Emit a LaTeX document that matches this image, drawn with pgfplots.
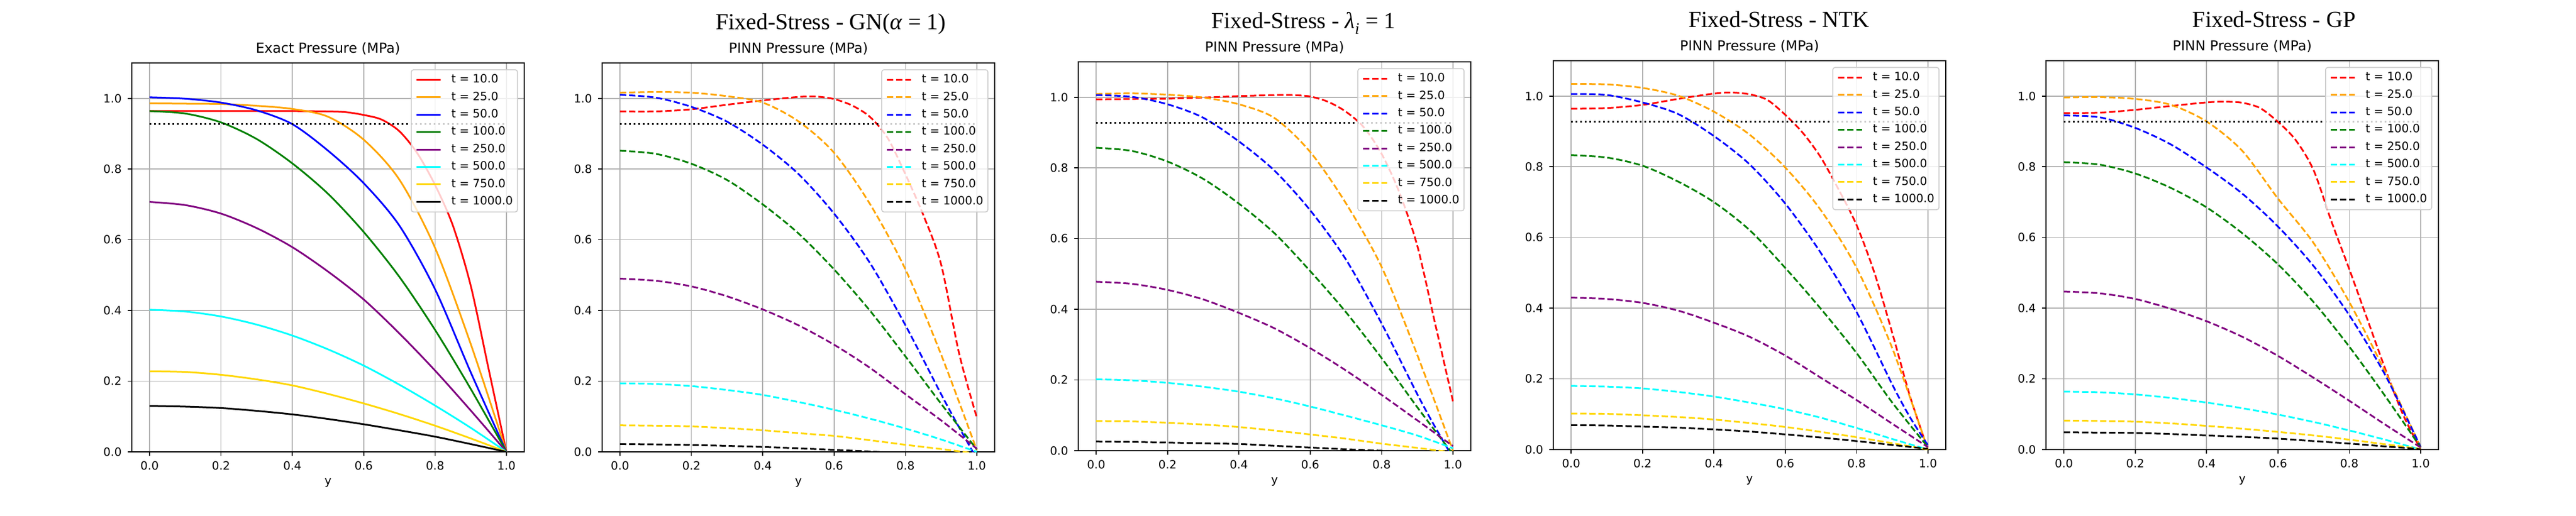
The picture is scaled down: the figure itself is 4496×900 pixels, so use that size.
\documentclass[border=0pt]{standalone}
\usepackage{fontspec}
\setmainfont{DejaVu Sans}
\newfontfamily\supfont{Liberation Serif}
\usepackage{pgfplots}
\pgfplotsset{compat=1.18}

\definecolor{mplorange}{HTML}{FFA500}
\definecolor{mplgreen}{HTML}{008000}
\definecolor{mplpurple}{HTML}{800080}
\definecolor{mplcyan}{HTML}{00FFFF}
\definecolor{mplgold}{HTML}{FFD700}
\definecolor{mplgrid}{HTML}{B0B0B0}
\definecolor{legedge}{HTML}{CCCCCC}

\newcommand{\tf}{\fontsize{20}{24}\selectfont}
\newcommand{\ttf}{\fontsize{24}{29}\selectfont}
\newcommand{\stf}{\supfont\fontsize{40}{48}\selectfont}

\pgfplotsset{
  panel/.style={
    scale only axis, width=685pt, height=679pt,
    anchor=south west,
    xmin=-0.05, xmax=1.05, ymin=0, ymax=1.1,
    xtick={0,0.2,0.4,0.6,0.8,1}, xticklabels={0.0,0.2,0.4,0.6,0.8,1.0},
    ytick={0,0.2,0.4,0.6,0.8,1}, yticklabels={0.0,0.2,0.4,0.6,0.8,1.0},
    tick align=outside, xtick pos=left, ytick pos=left,
    major tick length=7pt,
    tick style={black, line width=1.6pt},
    axis line style={line width=1.6pt},
    grid=major, major grid style={mplgrid, line width=1.6pt},
    xticklabel style={font=\tf, inner sep=0pt, anchor=north, yshift=-9pt},
    yticklabel style={font=\tf, inner sep=0pt, anchor=east, xshift=-10.5pt},
    xlabel={y},
    xlabel style={font=\tf, at={(axis description cs:0.5,0)}, anchor=base, yshift=-57pt, inner sep=0pt},
    title style={font=\ttf, at={(axis description cs:0.5,1)}, anchor=base, yshift=11pt, inner sep=0pt},
    legend cell align=left,
    legend image code/.code={\draw[##1] (0pt,0pt) -- (42pt,0pt);},
    legend style={at={(1,1)}, anchor=north east, xshift=-11pt, yshift=-11pt,
      font=\tf, draw=legedge, line width=1.6pt, rounded corners=4pt,
      fill=white, fill opacity=0.8, draw opacity=1, text opacity=1,
      inner xsep=8pt, inner ysep=8.5pt, row sep=11.9pt,
      nodes={inner sep=0pt, text height=14.5pt, text depth=4pt},
      /tikz/every odd column/.append style={column sep=17pt}},
  },
  ex/.style={line width=3pt, smooth},
  pd/.style={line width=3pt, smooth, dash pattern=on 11pt off 4.8pt},
  ref/.style={black, line width=3pt, dash pattern=on 3pt off 5pt, forget plot},
}

\begin{document}
\begin{tikzpicture}
\fill[white] (0pt,0pt) rectangle (4496pt,900pt);

% exact solution
\begin{axis}[panel, at={(230pt,111pt)}, title={Exact Pressure (MPa)}]
\addplot[ex, red] coordinates {(0,0.964)(0.1,0.964)(0.2,0.964)(0.3,0.964)(0.4,0.964)(0.5,0.963)(0.55,0.961)(0.6,0.953)(0.65,0.94)(0.7,0.907)(0.75,0.845)(0.8,0.755)(0.85,0.64)(0.9,0.47)(0.95,0.235)(1,0)};
\addplot[ex, mplorange] coordinates {(0,0.986)(0.1,0.985)(0.2,0.984)(0.3,0.979)(0.4,0.970)(0.5,0.948)(0.6,0.883)(0.7,0.77)(0.8,0.577)(0.9,0.305)(1,0)};
\addplot[ex, blue] coordinates {(0,1.003)(0.1,0.999)(0.2,0.988)(0.3,0.966)(0.4,0.927)(0.5,0.852)(0.6,0.76)(0.7,0.64)(0.8,0.46)(0.9,0.225)(1,0)};
\addplot[ex, mplgreen] coordinates {(0,0.964)(0.1,0.957)(0.2,0.932)(0.3,0.885)(0.4,0.816)(0.5,0.730)(0.6,0.622)(0.7,0.495)(0.8,0.345)(0.9,0.178)(1,0)};
\addplot[ex, mplpurple] coordinates {(0,0.707)(0.1,0.698)(0.2,0.674)(0.3,0.633)(0.4,0.579)(0.5,0.510)(0.6,0.431)(0.7,0.335)(0.8,0.230)(0.9,0.117)(1,0)};
\addplot[ex, mplcyan] coordinates {(0,0.402)(0.1,0.397)(0.2,0.383)(0.3,0.360)(0.4,0.329)(0.5,0.290)(0.6,0.244)(0.7,0.190)(0.8,0.131)(0.9,0.068)(1,0)};
\addplot[ex, mplgold] coordinates {(0,0.228)(0.1,0.226)(0.2,0.218)(0.3,0.205)(0.4,0.188)(0.5,0.164)(0.6,0.137)(0.7,0.107)(0.8,0.074)(0.9,0.038)(1,0)};
\addplot[ex, black] coordinates {(0,0.130)(0.1,0.128)(0.2,0.124)(0.3,0.116)(0.4,0.106)(0.5,0.093)(0.6,0.078)(0.7,0.061)(0.8,0.043)(0.9,0.022)(1,0)};
\addplot[ref] coordinates {(0,0.927)(1,0.927)};
\legend{{t = 10.0},{t = 25.0},{t = 50.0},{t = 100.0},{t = 250.0},{t = 500.0},{t = 750.0},{t = 1000.0}}
\end{axis}

% GN(alpha=1)
\begin{axis}[panel, at={(1051pt,111pt)}, title={PINN Pressure (MPa)}]
\addplot[pd, red] coordinates {(0,0.963)(0.1,0.963)(0.2,0.969)(0.3,0.982)(0.4,0.994)(0.5,1.004)(0.55,1.005)(0.6,0.998)(0.65,0.980)(0.7,0.948)(0.75,0.888)(0.8,0.785)(0.85,0.67)(0.9,0.53)(0.95,0.28)(1,0.097)};
\addplot[pd, mplorange] coordinates {(0,1.016)(0.1,1.018)(0.2,1.016)(0.3,1.006)(0.4,0.988)(0.5,0.935)(0.6,0.846)(0.7,0.702)(0.8,0.516)(0.9,0.275)(1,0.005)};
\addplot[pd, blue] coordinates {(0,1.010)(0.1,1.002)(0.2,0.976)(0.3,0.934)(0.4,0.869)(0.5,0.786)(0.6,0.674)(0.7,0.535)(0.8,0.358)(0.9,0.163)(0.95,0.07)(1,-0.02)};
\addplot[pd, mplgreen] coordinates {(0,0.852)(0.1,0.843)(0.2,0.815)(0.3,0.769)(0.4,0.700)(0.5,0.618)(0.6,0.516)(0.7,0.400)(0.8,0.270)(0.9,0.136)(1,0.007)};
\addplot[pd, mplpurple] coordinates {(0,0.490)(0.1,0.484)(0.2,0.468)(0.3,0.440)(0.4,0.403)(0.5,0.358)(0.6,0.303)(0.7,0.238)(0.8,0.163)(0.9,0.089)(1,0.009)};
\addplot[pd, mplcyan] coordinates {(0,0.194)(0.1,0.192)(0.2,0.186)(0.3,0.175)(0.4,0.161)(0.5,0.141)(0.6,0.119)(0.7,0.094)(0.8,0.066)(0.9,0.035)(1,0.0)};
\addplot[pd, mplgold] coordinates {(0,0.075)(0.1,0.074)(0.2,0.072)(0.3,0.067)(0.4,0.061)(0.5,0.053)(0.6,0.045)(0.7,0.033)(0.8,0.020)(0.9,0.008)(1,-0.005)};
\addplot[pd, black] coordinates {(0,0.022)(0.1,0.021)(0.2,0.0195)(0.3,0.017)(0.4,0.014)(0.5,0.010)(0.6,0.0056)(0.7,0.001)(0.8,-0.004)(0.9,-0.008)(1,-0.012)};
\addplot[ref] coordinates {(0,0.927)(1,0.927)};
\legend{{t = 10.0},{t = 25.0},{t = 50.0},{t = 100.0},{t = 250.0},{t = 500.0},{t = 750.0},{t = 1000.0}}
\end{axis}

% lambda_i = 1
\begin{axis}[panel, at={(1882pt,113pt)}, title={PINN Pressure (MPa)}]
\addplot[pd, red] coordinates {(0,0.994)(0.1,0.995)(0.2,0.996)(0.3,0.999)(0.4,1.003)(0.5,1.006)(0.55,1.006)(0.6,1.002)(0.65,0.987)(0.7,0.959)(0.75,0.915)(0.8,0.84)(0.85,0.73)(0.9,0.58)(0.95,0.36)(1,0.14)};
\addplot[pd, mplorange] coordinates {(0,1.009)(0.1,1.011)(0.2,1.007)(0.3,0.999)(0.4,0.980)(0.5,0.941)(0.6,0.845)(0.7,0.70)(0.8,0.52)(0.9,0.271)(1,0.0)};
\addplot[pd, blue] coordinates {(0,1.006)(0.1,1.001)(0.2,0.980)(0.3,0.942)(0.4,0.875)(0.5,0.792)(0.6,0.680)(0.7,0.541)(0.8,0.360)(0.9,0.160)(0.95,0.067)(1,-0.02)};
\addplot[pd, mplgreen] coordinates {(0,0.857)(0.1,0.848)(0.2,0.818)(0.3,0.769)(0.4,0.699)(0.5,0.615)(0.6,0.508)(0.7,0.392)(0.8,0.262)(0.9,0.123)(1,-0.01)};
\addplot[pd, mplpurple] coordinates {(0,0.478)(0.1,0.472)(0.2,0.455)(0.3,0.428)(0.4,0.390)(0.5,0.346)(0.6,0.290)(0.7,0.227)(0.8,0.158)(0.9,0.086)(1,0.013)};
\addplot[pd, mplcyan] coordinates {(0,0.202)(0.1,0.199)(0.2,0.192)(0.3,0.181)(0.4,0.167)(0.5,0.148)(0.6,0.125)(0.7,0.099)(0.8,0.072)(0.9,0.043)(1,0.007)};
\addplot[pd, mplgold] coordinates {(0,0.084)(0.1,0.083)(0.2,0.079)(0.3,0.074)(0.4,0.067)(0.5,0.057)(0.6,0.046)(0.7,0.034)(0.8,0.020)(0.9,0.008)(1,-0.005)};
\addplot[pd, black] coordinates {(0,0.026)(0.1,0.025)(0.2,0.023)(0.3,0.021)(0.4,0.019)(0.5,0.014)(0.6,0.009)(0.7,0.004)(0.8,0.0)(0.9,-0.004)(1,-0.008)};
\addplot[ref] coordinates {(0,0.927)(1,0.927)};
\legend{{t = 10.0},{t = 25.0},{t = 50.0},{t = 100.0},{t = 250.0},{t = 500.0},{t = 750.0},{t = 1000.0}}
\end{axis}

% NTK
\begin{axis}[panel, at={(2711pt,115pt)}, title={PINN Pressure (MPa)}]
\addplot[pd, red] coordinates {(0,0.964)(0.1,0.966)(0.2,0.975)(0.3,0.992)(0.4,1.007)(0.45,1.010)(0.5,1.005)(0.55,0.989)(0.6,0.947)(0.65,0.895)(0.7,0.826)(0.75,0.735)(0.8,0.635)(0.85,0.50)(0.9,0.33)(0.95,0.15)(1,0.0)};
\addplot[pd, mplorange] coordinates {(0,1.034)(0.1,1.033)(0.2,1.023)(0.3,1.001)(0.4,0.956)(0.5,0.891)(0.6,0.798)(0.7,0.677)(0.8,0.514)(0.9,0.287)(1,0.0)};
\addplot[pd, blue] coordinates {(0,1.006)(0.1,1.003)(0.2,0.982)(0.3,0.949)(0.4,0.887)(0.5,0.807)(0.6,0.696)(0.7,0.556)(0.8,0.389)(0.9,0.184)(0.95,0.091)(1,0.012)};
\addplot[pd, mplgreen] coordinates {(0,0.833)(0.1,0.826)(0.2,0.803)(0.3,0.758)(0.4,0.700)(0.5,0.621)(0.6,0.514)(0.7,0.398)(0.8,0.273)(0.9,0.133)(1,0.007)};
\addplot[pd, mplpurple] coordinates {(0,0.430)(0.1,0.426)(0.2,0.415)(0.3,0.393)(0.4,0.359)(0.5,0.319)(0.6,0.266)(0.7,0.203)(0.8,0.140)(0.9,0.073)(1,0.007)};
\addplot[pd, mplcyan] coordinates {(0,0.180)(0.1,0.178)(0.2,0.173)(0.3,0.163)(0.4,0.150)(0.5,0.133)(0.6,0.114)(0.7,0.090)(0.8,0.061)(0.9,0.030)(1,0.0)};
\addplot[pd, mplgold] coordinates {(0,0.102)(0.1,0.101)(0.2,0.097)(0.3,0.092)(0.4,0.085)(0.5,0.075)(0.6,0.064)(0.7,0.050)(0.8,0.035)(0.9,0.018)(1,0.0)};
\addplot[pd, black] coordinates {(0,0.069)(0.1,0.068)(0.2,0.065)(0.3,0.062)(0.4,0.057)(0.5,0.051)(0.6,0.043)(0.7,0.034)(0.8,0.024)(0.9,0.013)(1,0.002)};
\addplot[ref] coordinates {(0,0.927)(1,0.927)};
\legend{{t = 10.0},{t = 25.0},{t = 50.0},{t = 100.0},{t = 250.0},{t = 500.0},{t = 750.0},{t = 1000.0}}
\end{axis}

% GP
\begin{axis}[panel, at={(3571pt,115pt)}, title={PINN Pressure (MPa)}]
\addplot[pd, red] coordinates {(0,0.952)(0.1,0.953)(0.2,0.961)(0.3,0.972)(0.4,0.982)(0.45,0.984)(0.5,0.981)(0.55,0.966)(0.6,0.927)(0.65,0.875)(0.7,0.79)(0.75,0.645)(0.8,0.51)(0.85,0.37)(0.9,0.23)(0.95,0.10)(1,0.0)};
\addplot[pd, mplorange] coordinates {(0,0.996)(0.1,0.997)(0.2,0.992)(0.3,0.975)(0.4,0.928)(0.5,0.845)(0.6,0.710)(0.7,0.584)(0.8,0.417)(0.9,0.221)(1,0.007)};
\addplot[pd, blue] coordinates {(0,0.945)(0.1,0.940)(0.2,0.910)(0.3,0.863)(0.4,0.798)(0.5,0.724)(0.6,0.631)(0.7,0.519)(0.8,0.380)(0.9,0.212)(1,0.007)};
\addplot[pd, mplgreen] coordinates {(0,0.813)(0.1,0.806)(0.2,0.781)(0.3,0.740)(0.4,0.685)(0.5,0.612)(0.6,0.524)(0.7,0.417)(0.8,0.291)(0.9,0.152)(1,0.006)};
\addplot[pd, mplpurple] coordinates {(0,0.447)(0.1,0.442)(0.2,0.426)(0.3,0.398)(0.4,0.363)(0.5,0.319)(0.6,0.265)(0.7,0.203)(0.8,0.138)(0.9,0.071)(1,0.006)};
\addplot[pd, mplcyan] coordinates {(0,0.164)(0.1,0.162)(0.2,0.156)(0.3,0.146)(0.4,0.133)(0.5,0.117)(0.6,0.099)(0.7,0.078)(0.8,0.054)(0.9,0.028)(1,0.0)};
\addplot[pd, mplgold] coordinates {(0,0.082)(0.1,0.081)(0.2,0.079)(0.3,0.074)(0.4,0.067)(0.5,0.059)(0.6,0.050)(0.7,0.040)(0.8,0.028)(0.9,0.015)(1,0.002)};
\addplot[pd, black] coordinates {(0,0.049)(0.1,0.048)(0.2,0.047)(0.3,0.044)(0.4,0.040)(0.5,0.036)(0.6,0.031)(0.7,0.024)(0.8,0.017)(0.9,0.009)(1,0.001)};
\addplot[ref] coordinates {(0,0.927)(1,0.927)};
\legend{{t = 10.0},{t = 25.0},{t = 50.0},{t = 100.0},{t = 250.0},{t = 500.0},{t = 750.0},{t = 1000.0}}
\end{axis}

% figure titles
\node[anchor=base, font=\stf, inner sep=0pt] at (1450pt,848pt) {Fixed-Stress - GN(\textit{α} = 1)};
\node[anchor=base, font=\stf, inner sep=0pt] at (2275pt,850pt) {Fixed-Stress - \textit{λ}\textsubscript{\textit{i}} = 1};
\node[anchor=base, font=\stf, inner sep=0pt] at (3105pt,852pt) {Fixed-Stress - NTK};
\node[anchor=base, font=\stf, inner sep=0pt] at (3969pt,852pt) {Fixed-Stress - GP};
\end{tikzpicture}
\end{document}
